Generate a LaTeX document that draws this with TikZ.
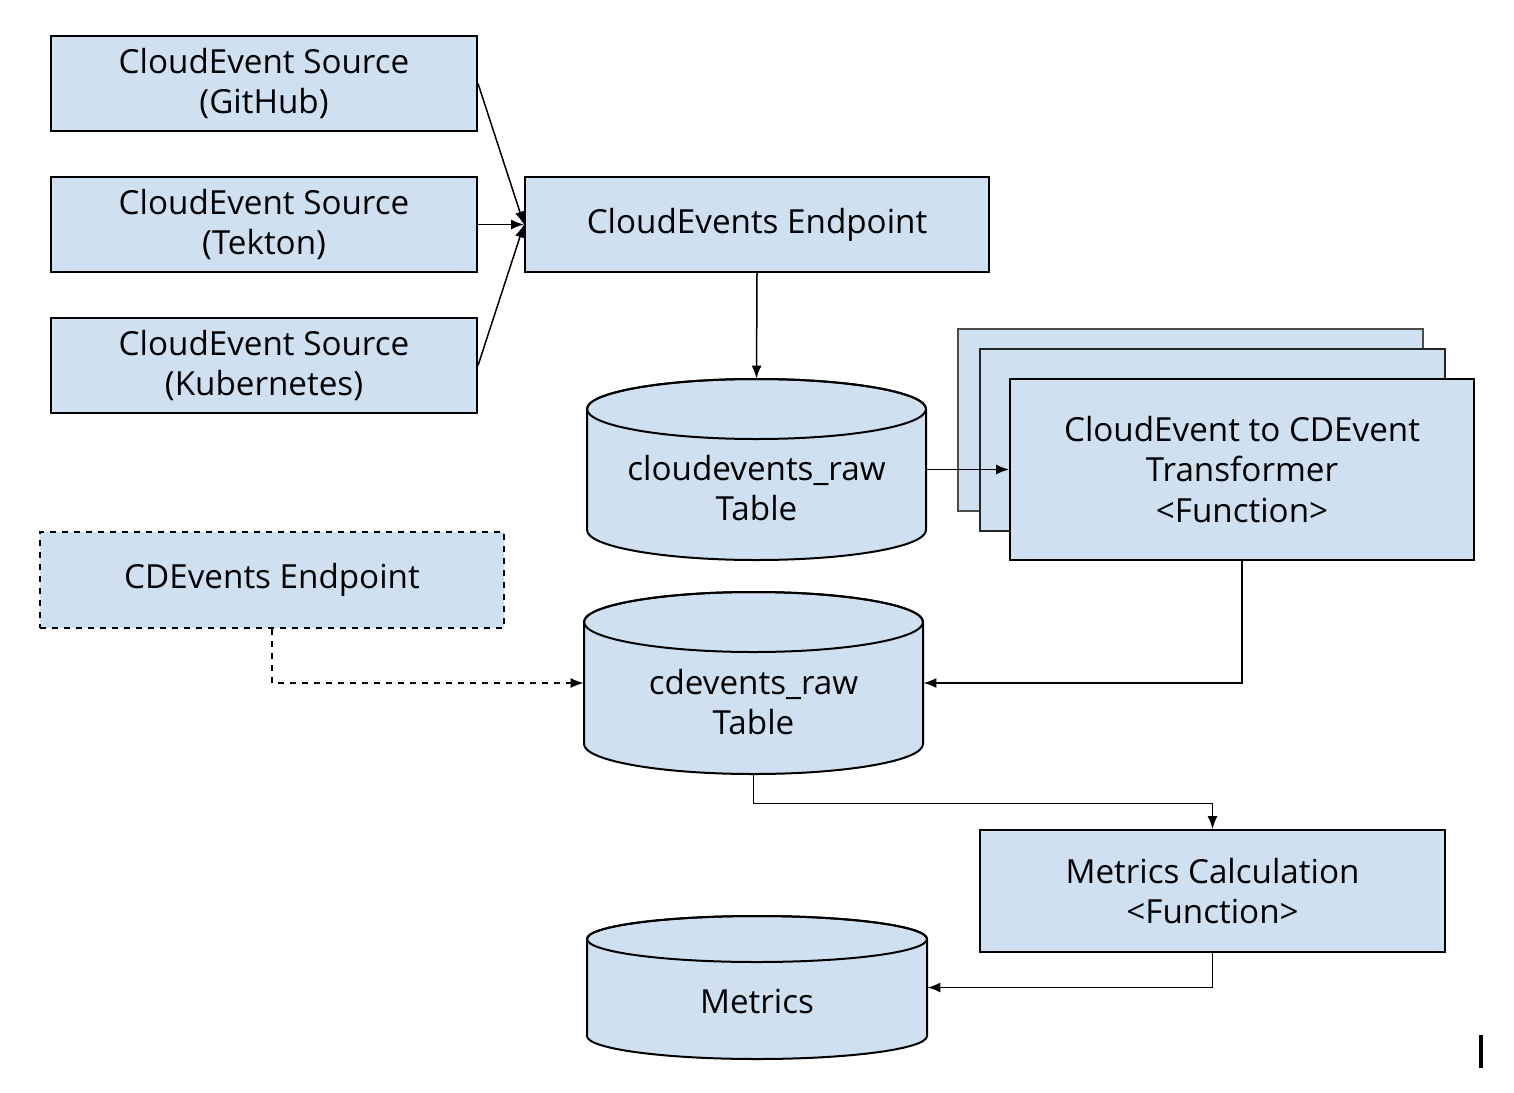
\documentclass[tikz,border=0pt]{standalone}
\usepackage{fontspec}
\setmainfont{Open Sans}
\usepackage{tikz}
\usetikzlibrary{arrows.meta}

\definecolor{boxblue}{RGB}{207,224,241}

\tikzset{
  box/.style={draw, line width=1pt, fill=boxblue, align=center, inner sep=0pt,
    font=\fontsize{16.6}{20.25}\selectfont},
  dbtext/.style={inner sep=0pt, align=center, font=\fontsize{16.6}{20.25}\selectfont},
  dbshape/.style={draw, line width=1pt, fill=boxblue},
  link/.style={line width=0.75pt, -{Latex[length=6.5pt,width=5pt]}}
}

% cylinder: left x, right x, top y, bottom y, ellipse y radius
\newcommand{\dbcyl}[5]{%
  \path[dbshape] (#1,#3+#5) -- (#1,#4-#5)
    arc[start angle=180, end angle=0, x radius={(#2-#1)/2}, y radius=#5]
    -- (#2,#3+#5)
    arc[start angle=0, end angle=-180, x radius={(#2-#1)/2}, y radius=#5] -- cycle;
  \draw[line width=1pt] ({(#1+#2)/2},#3+#5) ellipse [x radius={(#2-#1)/2}, y radius=#5];
}

\begin{document}
\begin{tikzpicture}[x=0.5pt,y=-0.5pt]
\useasboundingbox (0,0) rectangle (1514,1092);

%Sources
\node[box, minimum width=213pt, minimum height=47.5pt] (srcgit) at (264,83.5) {CloudEvent Source\\(GitHub)};
\node[box, minimum width=213pt, minimum height=47.5pt] (srctek) at (264,224.5) {CloudEvent Source\\(Tekton)};
\node[box, minimum width=213pt, minimum height=47.5pt] (srckube) at (264,365.5) {CloudEvent Source\\(Kubernetes)};

%Endpoints
\node[box, minimum width=232pt, minimum height=47.5pt] (ceend) at (757,224.5) {CloudEvents Endpoint};
\node[box, dashed, minimum width=232pt, minimum height=48pt] (cdend) at (272,580) {CDEvents Endpoint};

%Tables
\dbcyl{587}{926}{379}{560}{30}
\node[minimum width=169.5pt, minimum height=90.5pt, inner sep=0pt] (cloudraw) at (756.5,469.5) {};
\node[dbtext] (cloudrawtxt) at (756.5,488) {cloudevents\_raw\\Table};

\dbcyl{584}{923}{592}{774}{30}
\node[minimum width=169.5pt, minimum height=91pt, inner sep=0pt] (cdraw) at (753.5,683) {};
\node[dbtext] (cdrawtxt) at (753.5,702) {cdevents\_raw\\Table};

\dbcyl{587}{927}{916}{1059}{23}
\node[minimum width=170pt, minimum height=71.5pt, inner sep=0pt] (metrics) at (757,987.5) {};
\node[dbtext] (metricstxt) at (757,1001) {Metrics};

%Transformer stack
\node[box, draw=black!70, minimum width=232.5pt, minimum height=91pt] (tfback) at (1190.5,420) {};
\node[box, draw=black!85, minimum width=232.5pt, minimum height=91pt] (tfmid) at (1212.5,440) {};
\node[box, minimum width=232pt, minimum height=90.5pt] (tf) at (1242,469.5) {CloudEvent to CDEvent\\Transformer\\<Function>};

%Metrics function
\node[box, minimum width=232.5pt, minimum height=61pt] (calc) at (1212.5,891) {Metrics Calculation\\<Function>};

%Connectors
\draw[link] (srcgit.east) -- (ceend.west);
\draw[link] (srctek.east) -- (ceend.west);
\draw[link] (srckube.east) -- (ceend.west);
\draw[link] (ceend.south) -- (cloudraw.north);
\draw[link] (cloudraw.east) -- (tf.west);
\draw[link] (tf.south) |- (cdraw.east);
\draw[link, dashed] (cdend.south) |- (cdraw.west);
\draw[link] (cdraw.south) -- ++(0,29) -| (calc.north);
\draw[link] (calc.south) |- (metrics.east);

%cursor mark
\draw[line width=2pt] (1481,1035) -- (1481,1068);

\end{tikzpicture}
\end{document}
